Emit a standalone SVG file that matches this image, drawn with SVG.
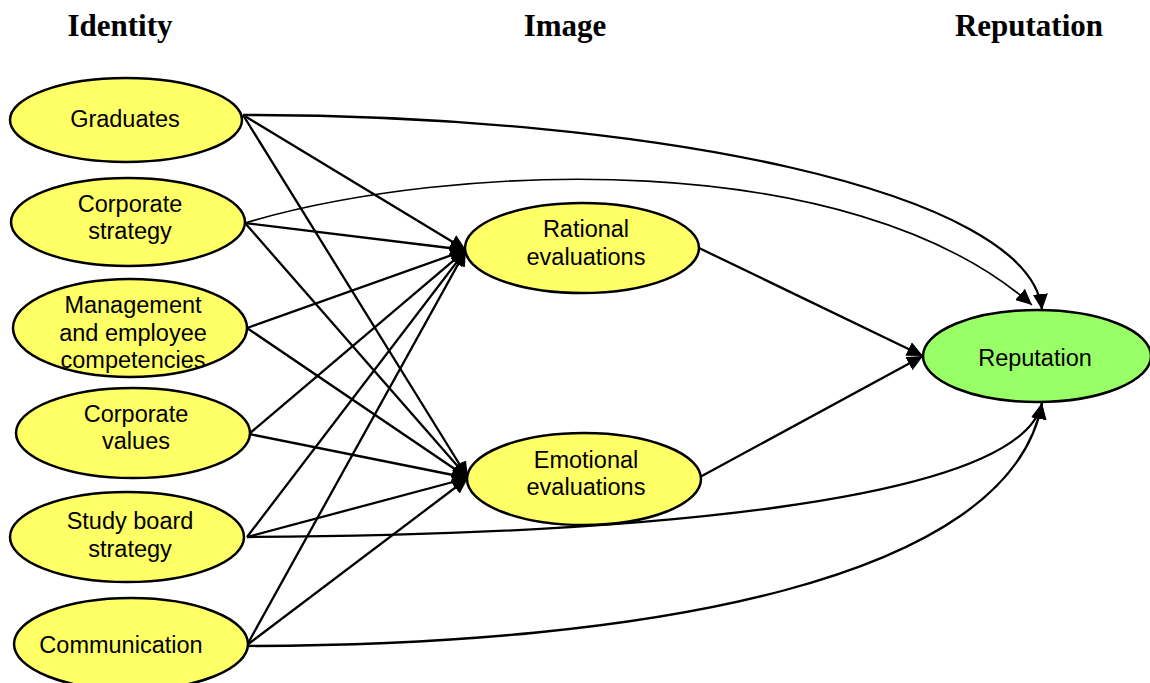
<svg xmlns="http://www.w3.org/2000/svg" width="1150" height="683" viewBox="0 0 1150 683">
<style>
.title{font-family:"Liberation Serif","Times New Roman",serif;font-weight:bold;font-size:31px;fill:#000;text-anchor:middle}
.lbl{font-family:"Liberation Sans",Arial,sans-serif;font-size:23.5px;fill:#000;text-anchor:middle}
.yn{fill:#FFFF66;stroke:#000;stroke-width:2.5}
.gn{fill:#99FF66;stroke:#000;stroke-width:2.5}
.ln{fill:none;stroke:#000;stroke-width:2.3;marker-end:url(#ah)}
.thin{stroke-width:1.6}
</style>
<defs>
<marker id="ah" markerUnits="userSpaceOnUse" markerWidth="17" markerHeight="15" refX="16" refY="7.5" orient="auto">
<path d="M0,0 L16,7.5 L0,15 z" fill="#000"/>
</marker>
</defs>
<rect width="1150" height="683" fill="#fff"/>
<g id="titles">
<text class="title" x="120" y="36">Identity</text>
<text class="title" x="565" y="36">Image</text>
<text class="title" x="1029" y="36">Reputation</text>
</g>
<g id="connectors">
<line class="ln" x1="243" y1="115" x2="466" y2="250"/>
<line class="ln" x1="243" y1="115" x2="468" y2="478"/>
<line class="ln" x1="245" y1="223" x2="466" y2="250"/>
<line class="ln" x1="245" y1="223" x2="468" y2="478"/>
<line class="ln" x1="247" y1="328" x2="466" y2="250"/>
<line class="ln" x1="247" y1="328" x2="468" y2="478"/>
<line class="ln" x1="249" y1="434" x2="466" y2="250"/>
<line class="ln" x1="249" y1="434" x2="468" y2="478"/>
<line class="ln" x1="247" y1="537" x2="466" y2="250"/>
<line class="ln" x1="247" y1="537" x2="468" y2="478"/>
<line class="ln" x1="247" y1="645" x2="466" y2="250"/>
<line class="ln" x1="247" y1="645" x2="468" y2="478"/>
<line class="ln" x1="699" y1="248" x2="923" y2="356"/>
<line class="ln" x1="700" y1="477" x2="923" y2="356"/>
<path class="ln" d="M243,115 C650,115 1030,190 1042,310"/>
<path class="ln thin" d="M245,223 C450,162 850,145 1032,305"/>
<path class="ln" d="M247,537 C620,535 1020,505 1042,403"/>
<path class="ln" d="M247,646 C650,645 1010,580 1042,403"/>
</g>
<g id="graduates">
<ellipse class="yn" cx="126" cy="120" rx="116" ry="42"/>
<text class="lbl" x="125" y="127">Graduates</text>
</g>
<g id="corporate-strategy">
<ellipse class="yn" cx="128" cy="222" rx="117" ry="44"/>
<text class="lbl" x="130" y="212">Corporate</text>
<text class="lbl" x="130" y="239">strategy</text>
</g>
<g id="management">
<ellipse class="yn" cx="130" cy="328" rx="117" ry="49"/>
<text class="lbl" x="133" y="313">Management</text>
<text class="lbl" x="133" y="341">and employee</text>
<text class="lbl" x="133" y="368">competencies</text>
</g>
<g id="corporate-values">
<ellipse class="yn" cx="133" cy="433" rx="117" ry="45"/>
<text class="lbl" x="136" y="422">Corporate</text>
<text class="lbl" x="136" y="449">values</text>
</g>
<g id="study-board">
<ellipse class="yn" cx="127" cy="537" rx="117" ry="45"/>
<text class="lbl" x="130" y="529">Study board</text>
<text class="lbl" x="130" y="557">strategy</text>
</g>
<g id="communication">
<ellipse class="yn" cx="131" cy="644" rx="117" ry="46"/>
<text class="lbl" x="121" y="653">Communication</text>
</g>
<g id="rational">
<ellipse class="yn" cx="582" cy="248" rx="117" ry="45"/>
<text class="lbl" x="586" y="237">Rational</text>
<text class="lbl" x="586" y="265">evaluations</text>
</g>
<g id="emotional">
<ellipse class="yn" cx="584" cy="479" rx="117" ry="46"/>
<text class="lbl" x="586" y="468">Emotional</text>
<text class="lbl" x="586" y="495">evaluations</text>
</g>
<g id="reputation">
<ellipse class="gn" cx="1037" cy="356" rx="114" ry="46"/>
<text class="lbl" x="1035" y="366">Reputation</text>
</g>
</svg>
